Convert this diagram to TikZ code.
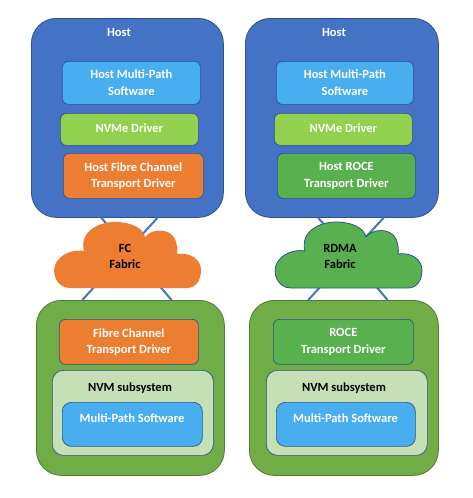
\documentclass[tikz,border=0pt]{standalone}
\usepackage{fontspec}
\setmainfont{Carlito}
\usetikzlibrary{calc}
\definecolor{hostblue}{HTML}{4472C4}
\definecolor{darkblue}{HTML}{2F528F}
\definecolor{mpblue}{HTML}{48AEEF}
\definecolor{nvmegreen}{HTML}{92D050}
\definecolor{fcorange}{HTML}{ED7D31}
\definecolor{rocegreen}{HTML}{59B04F}
\definecolor{outergreen}{HTML}{70AD47}
\definecolor{outerborder}{HTML}{4E7A3A}
\definecolor{nvmlight}{HTML}{C5E0B4}
\tikzset{
  bigbox/.style={rectangle, rounded corners=25pt, anchor=north west, inner sep=0pt, line width=0.8pt},
  hostbox/.style={bigbox, fill=hostblue, draw=darkblue},
  subbox/.style={bigbox, fill=outergreen, draw=outerborder},
  layer/.style={rectangle, rounded corners=6pt, anchor=north west, inner sep=0pt, draw=darkblue, line width=0.7pt},
  nvmbox/.style={rectangle, rounded corners=11pt, anchor=north west, inner sep=0pt, draw=darkblue, line width=0.7pt, fill=nvmlight},
  wtxt/.style={text=white, font=\fontsize{12.5}{16.5}\selectfont\bfseries, align=center, inner sep=0pt},
  btxt/.style={text=black, font=\fontsize{12.5}{16.5}\selectfont\bfseries, align=center, inner sep=0pt},
  link/.style={draw=hostblue, line width=2pt},
}
\newcommand{\cloudpath}{(17,66) .. controls (3,66) and (-2,50) .. (3,41)
  .. controls (8,32) and (20,27) .. (31,29)
  .. controls (26,10) and (45,0) .. (62,0)
  .. controls (78,0) and (90,6) .. (92,15)
  .. controls (98,7) and (116,5) .. (122,17)
  .. controls (124,22) and (125,28) .. (124,32)
  .. controls (138,30) and (148,38) .. (148,48)
  .. controls (148,58) and (143,66) .. (134,66) -- cycle}
\begin{document}
\begin{tikzpicture}[x=1pt,y=-1pt]
\useasboundingbox[fill=white] (0,0) rectangle (472,498);
% Hosts
\node[hostbox, minimum width=192pt, minimum height=199pt] (hostL) at (31,18) {};
\node[hostbox, minimum width=193pt, minimum height=199pt] (hostR) at (245,18) {};
\node[wtxt] (hostLt) at (119,32) {Host};
\node[wtxt] (hostRt) at (334,32) {Host};
% left host layers
\node[layer, fill=mpblue, minimum width=138pt, minimum height=43pt] (mpL) at (62,61) {};
\node[wtxt] (mpLt) at (mpL.center) {Host Multi-Path\\Software};
\node[layer, fill=nvmegreen, minimum width=138pt, minimum height=32pt] (nvL) at (60,113) {};
\node[wtxt] at ([yshift=1.5pt]nvL.center) (nvLt) {NVMe Driver};
\node[layer, fill=fcorange, minimum width=140pt, minimum height=45pt] (trL) at (63,153) {};
\node[wtxt] (trLt) at (trL.center) {Host Fibre Channel\\Transport Driver};
% right host layers
\node[layer, fill=mpblue, minimum width=137pt, minimum height=43pt] (mpR) at (276,61) {};
\node[wtxt] (mpRt) at (mpR.center) {Host Multi-Path\\Software};
\node[layer, fill=nvmegreen, minimum width=138pt, minimum height=32pt] (nvR) at (274,113) {};
\node[wtxt] at ([yshift=1.5pt]nvR.center) (nvRt) {NVMe Driver};
\node[layer, fill=rocegreen, minimum width=138pt, minimum height=45pt] (trR) at (277,153) {};
\node[wtxt] (trRt) at (trR.center) {Host ROCE\\Transport Driver};
% bottom subsystems
\node[subbox, minimum width=188pt, minimum height=175pt] (subL) at (36,300) {};
\node[subbox, minimum width=189pt, minimum height=175pt] (subR) at (249,300) {};
\node[layer, fill=fcorange, minimum width=139pt, minimum height=45pt] (ftL) at (59,319) {};
\node[wtxt] (ftLt) at (ftL.center) {Fibre Channel\\Transport Driver};
\node[layer, fill=rocegreen, minimum width=140pt, minimum height=45pt] (ftR) at (273,319) {};
\node[wtxt] (ftRt) at (ftR.center) {ROCE\\Transport Driver};
\node[nvmbox, minimum width=161pt, minimum height=85pt] (nvmL) at (52,370) {};
\node[nvmbox, minimum width=161pt, minimum height=85pt] (nvmR) at (266,370) {};
\node[btxt] (nvmLt) at (130,388) {NVM subsystem};
\node[btxt] (nvmRt) at (344,388) {NVM subsystem};
\node[layer, rounded corners=9pt, fill=mpblue, minimum width=140pt, minimum height=44pt] (smL) at (62,402) {};
\node[wtxt] (smLt) at (132,418) {Multi-Path Software};
\node[layer, rounded corners=9pt, fill=mpblue, minimum width=139pt, minimum height=44pt] (smR) at (276,402) {};
\node[wtxt] (smRt) at (345.5,418) {Multi-Path Software};
% connectors
\coordinate (aL1) at ($(hostL.south west)!0.365!(hostL.south east)$);
\coordinate (aL2) at ($(hostL.south west)!0.656!(hostL.south east)$);
\coordinate (bL1) at ($(subL.north west)!0.245!(subL.north east)$);
\coordinate (bL2) at ($(subL.north west)!0.718!(subL.north east)$);
\coordinate (aR1) at ($(hostR.south west)!0.378!(hostR.south east)$);
\coordinate (aR2) at ($(hostR.south west)!0.715!(hostR.south east)$);
\coordinate (bR1) at ($(subR.north west)!0.312!(subR.north east)$);
\coordinate (bR2) at ($(subR.north west)!0.730!(subR.north east)$);
\draw[link] (aL1) -- (bL2);
\draw[link] (aL2) -- (bL1);
\draw[link] (aR1) -- (bR2);
\draw[link] (aR2) -- (bR1);
% clouds
\begin{scope}[shift={(53,222)}]
\fill[fcorange] \cloudpath;
\end{scope}
\begin{scope}[shift={(274,222)}]
\filldraw[fill=rocegreen, draw=darkblue, line width=0.8pt] \cloudpath;
\end{scope}
\node[btxt] (fcT) at (125,256.5) {FC\\Fabric};
\node[btxt] (rdT) at (340,256.5) {RDMA\\Fabric};
\end{tikzpicture}
\end{document}
